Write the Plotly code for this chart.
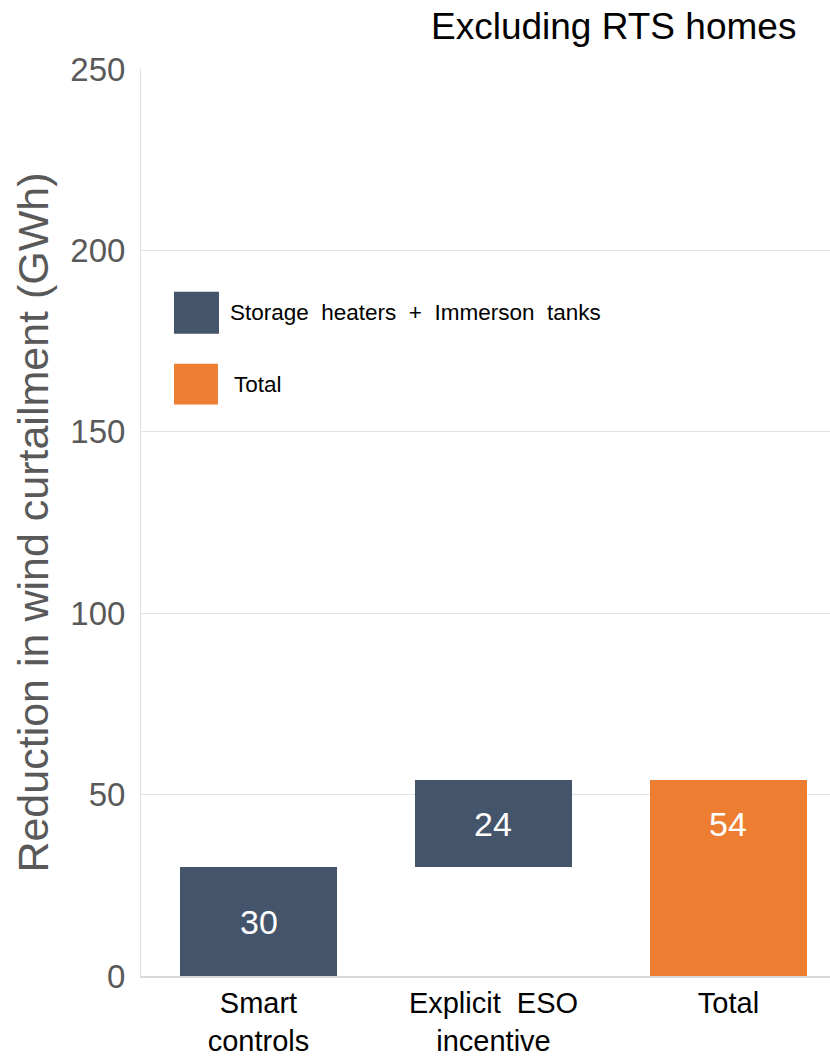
import plotly.graph_objects as go

categories = ["Smart<br>controls", "Explicit  ESO<br>incentive", "Total"]
bases = [0, 30, 0]
values = [30, 24, 54]
colors = ["#44546A", "#44546A", "#ED7D31"]
legend_labels = ["Storage  heaters  +  Immerson  tanks", "Total"]
legend_colors = ["#44546A", "#ED7D31"]
y_ticks = [0, 50, 100, 150, 200, 250]

FONT = "Liberation Sans, Arial, sans-serif"

fig = go.Figure()
fig.add_trace(go.Bar(
    x=categories, y=values, base=bases, marker=dict(color=colors, line=dict(width=0)),
    width=0.664, showlegend=False, hoverinfo="skip",
))

# value labels
label_y = [b + v / 2 for b, v in zip(bases, values)]
label_y[2] = label_y[1]
for c, y, v in zip(categories, label_y, values):
    fig.add_annotation(x=c, y=y, text=str(v), showarrow=False,
                       font=dict(family=FONT, size=34, color="white"),
                       xanchor="center", yanchor="middle")

# manual legend
leg_boxes = [(0.0479, 0.1132, 0.7082, 0.7544), (0.0479, 0.1117, 0.6300, 0.6751)]
leg_text_x = [0.126, 0.132]
for (x0, x1, y0, y1), col, lab, tx in zip(leg_boxes, legend_colors, legend_labels, leg_text_x):
    fig.add_shape(type="rect", xref="paper", yref="paper", x0=x0, x1=x1, y0=y0, y1=y1,
                  fillcolor=col, line=dict(width=0))
    fig.add_annotation(xref="paper", yref="paper", x=tx, y=(y0 + y1) / 2, text=lab,
                       showarrow=False, xanchor="left", yanchor="middle",
                       font=dict(family=FONT, size=22.5, color="black"))

# title
fig.add_annotation(xref="paper", yref="paper", x=0.953, y=1.0, yshift=43,
                   text="Excluding RTS homes", showarrow=False, xanchor="right",
                   yanchor="middle", font=dict(family=FONT, size=37, color="black"))

fig.update_layout(
    width=830, height=1057,
    margin=dict(l=141, r=0, t=69, b=81),
    plot_bgcolor="white", paper_bgcolor="white",
    bargap=0,
    xaxis=dict(range=[-0.5, 2.432], showgrid=False, showline=True, linecolor="#D9D9D9",
               linewidth=2, ticks="", automargin=False,
               tickfont=dict(family=FONT, size=29, color="black"),
               fixedrange=True),
    yaxis=dict(range=[0, 250], tickvals=y_ticks, showgrid=True, gridcolor="#E3E3E3",
               gridwidth=1, showline=True, linecolor="#E0E0E0", linewidth=1,
               zeroline=False, ticks="", ticklabelstandoff=8, automargin=False,
               tickfont=dict(family=FONT, size=33, color="#595959"),
               title=dict(text="Reduction in wind curtailment (GWh)", standoff=8,
                          font=dict(family=FONT, size=43, color="#595959"))),
)

fig.write_html("out.html", config={"displayModeBar": False},
               post_script="document.body.style.margin='0';")
